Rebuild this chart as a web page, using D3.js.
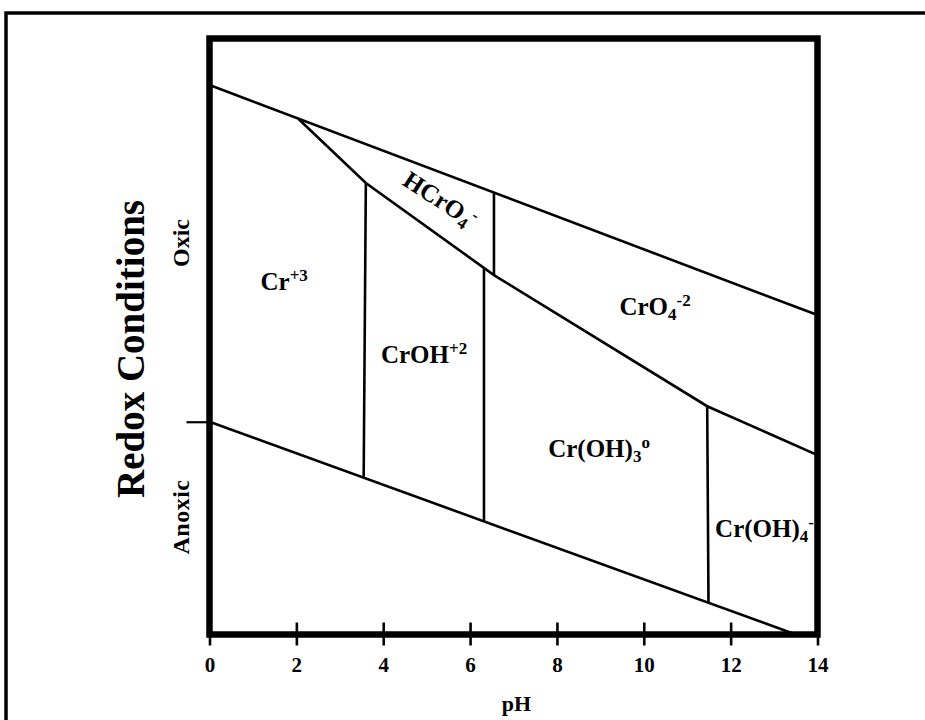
<!DOCTYPE html>
<html>
<head>
<meta charset="utf-8">
<script src="https://cdn.jsdelivr.net/npm/d3@7"></script>
<style>
  body { margin: 0; background: #fff; }
  text { font-family: "Liberation Serif", "Times New Roman", serif; font-weight: bold; fill: #000; }
</style>
</head>
<body>
<svg class="one"></svg>
<script>
// pH ticks along the bottom
var pHTicks = [0, 2, 4, 6, 8, 10, 12, 14];

// redox scale is relative (0 = bottom of frame, 100 = top)
var oxicAnoxicLevel = 35.7;

// water stability limits
var upperLimit = [{pH: 0, e: 92.2}, {pH: 14, e: 53.6}];
var lowerLimit = [{pH: 0, e: 35.7}, {pH: 13.5, e: 0}];

// Cr(III) / Cr(VI) boundary
var redoxBoundary = [
  {pH: 2.05, e: 86.5},
  {pH: 3.6, e: 75.75},
  {pH: 6.55, e: 60.3},
  {pH: 11.46, e: 38.3},
  {pH: 14, e: 30.1}
];

// vertical (acid-base) boundaries
var speciesBounds = [
  [{pH: 3.6, e: 75.75}, {pH: 3.55, e: 26.3}],
  [{pH: 6.32, e: 61.5}, {pH: 6.32, e: 19.0}],
  [{pH: 6.55, e: 74.1}, {pH: 6.55, e: 60.3}],
  [{pH: 11.46, e: 38.3}, {pH: 11.49, e: 5.3}]
];

// species labels: [text, kind] pieces
var species = [
  {pH: 1.72, e: 57.8, parts: [["Cr", ""], ["+3", "sup"]]},
  {pH: 4.94, e: 45.5, parts: [["CrOH", ""], ["+2", "sup"]]},
  {pH: 10.26, e: 53.6, parts: [["CrO", ""], ["4", "sub"], ["-2", "sup"]]},
  {pH: 8.97, e: 29.8, parts: [["Cr(OH)", ""], ["3", "sub"], ["o", "sup"]]},
  {pH: 12.78, e: 16.4, parts: [["Cr(OH)", ""], ["4", "sub"], ["-", "sup"]]},
  {pH: 5.21, e: 71.8, rotate: 33, parts: [["HCrO", ""], ["4", "sub"], ["-", "sup"]]}
];

var svgwidth = 925;
var svgheight = 720;

var margins = {top: 38.5, bottom: 85.5, left: 209.5, right: 107.5};

var width = svgwidth - margins.left - margins.right;
var height = svgheight - margins.top - margins.bottom;

var svg = d3.select('.one')
            .attr('width', svgwidth)
            .attr('height', svgheight);

// outer border
svg.append('rect')
   .attr('x', 6).attr('y', 13)
   .attr('width', 960).attr('height', 760)
   .attr('fill', 'none')
   .attr('stroke', '#000')
   .attr('stroke-width', 3.5);

var xScale = d3.scaleLinear().domain([0, 14]).range([0, width]);
var yScale = d3.scaleLinear().domain([0, 100]).range([height, 0]);

var plot = svg.append('g')
              .attr('transform', 'translate(' + margins.left + ',' + margins.top + ')');

var linemake = d3.line()
                 .x(function(d){ return xScale(d.pH); })
                 .y(function(d){ return yScale(d.e); });

var lineSets = [upperLimit, lowerLimit, redoxBoundary].concat(speciesBounds);

plot.selectAll('path.bound').data(lineSets).enter()
    .append('path')
    .classed('bound', true)
    .attr('d', linemake)
    .attr('fill', 'none')
    .attr('stroke', '#000')
    .attr('stroke-width', 2.6);

// x axis with ticks crossing the frame
var xAxis = d3.axisBottom(xScale).tickValues(pHTicks).tickSize(11).tickPadding(0);
var gx = plot.append('g').classed('xAxis', true)
             .attr('transform', 'translate(0,' + height + ')')
             .call(xAxis);
gx.select('.domain').remove();
gx.selectAll('.tick line')
  .attr('y1', -12).attr('y2', 11)
  .attr('stroke', '#000').attr('stroke-width', 2.6);
gx.selectAll('.tick text')
  .attr('y', 37).attr('dy', 0)
  .style('font-size', '21px')
  .style('font-family', '"Liberation Serif", serif')
  .style('font-weight', 'bold');

// y axis: single oxic/anoxic tick
var yAxis = d3.axisLeft(yScale).tickValues([oxicAnoxicLevel]).tickSize(23).tickFormat('');
var gy = plot.append('g').classed('yAxis', true).call(yAxis);
gy.select('.domain').remove();
gy.selectAll('.tick line').attr('stroke', '#000').attr('stroke-width', 2.2);

// frame
plot.append('rect')
    .attr('x', 0).attr('y', 0)
    .attr('width', width).attr('height', height)
    .attr('fill', 'none')
    .attr('stroke', '#000')
    .attr('stroke-width', 6.5);

// species labels
species.forEach(function(s){
  var t = plot.append('text')
              .attr('text-anchor', 'middle')
              .style('font-size', '25px');
  if (s.rotate) {
    t.attr('transform', 'translate(' + xScale(s.pH) + ',' + yScale(s.e) + ') rotate(' + s.rotate + ')');
  } else {
    t.attr('x', xScale(s.pH)).attr('y', yScale(s.e));
  }
  var shift = 0;
  s.parts.forEach(function(p){
    var sp = t.append('tspan').text(p[0]);
    var target = 0;
    if (p[1] === 'sup') { target = -9; sp.style('font-size', '17px'); }
    if (p[1] === 'sub') { target = 5; sp.style('font-size', '17px'); }
    sp.attr('dy', target - shift);
    shift = target;
  });
});

// axis titles
svg.append('text')
   .attr('x', (margins.left + width / 2) + 3)
   .attr('y', 711)
   .attr('text-anchor', 'middle')
   .style('font-size', '22px')
   .text('pH');

svg.append('text')
   .attr('transform', 'translate(144,349) rotate(-90)')
   .attr('text-anchor', 'middle')
   .style('font-size', '39px')
   .text('Redox Conditions');

svg.append('text')
   .attr('transform', 'translate(189,243) rotate(-90)')
   .attr('text-anchor', 'middle')
   .style('font-size', '24px')
   .text('Oxic');

svg.append('text')
   .attr('transform', 'translate(189,517) rotate(-90)')
   .attr('text-anchor', 'middle')
   .style('font-size', '24px')
   .style('letter-spacing', '0.5px')
   .text('Anoxic');
</script>
</body>
</html>
